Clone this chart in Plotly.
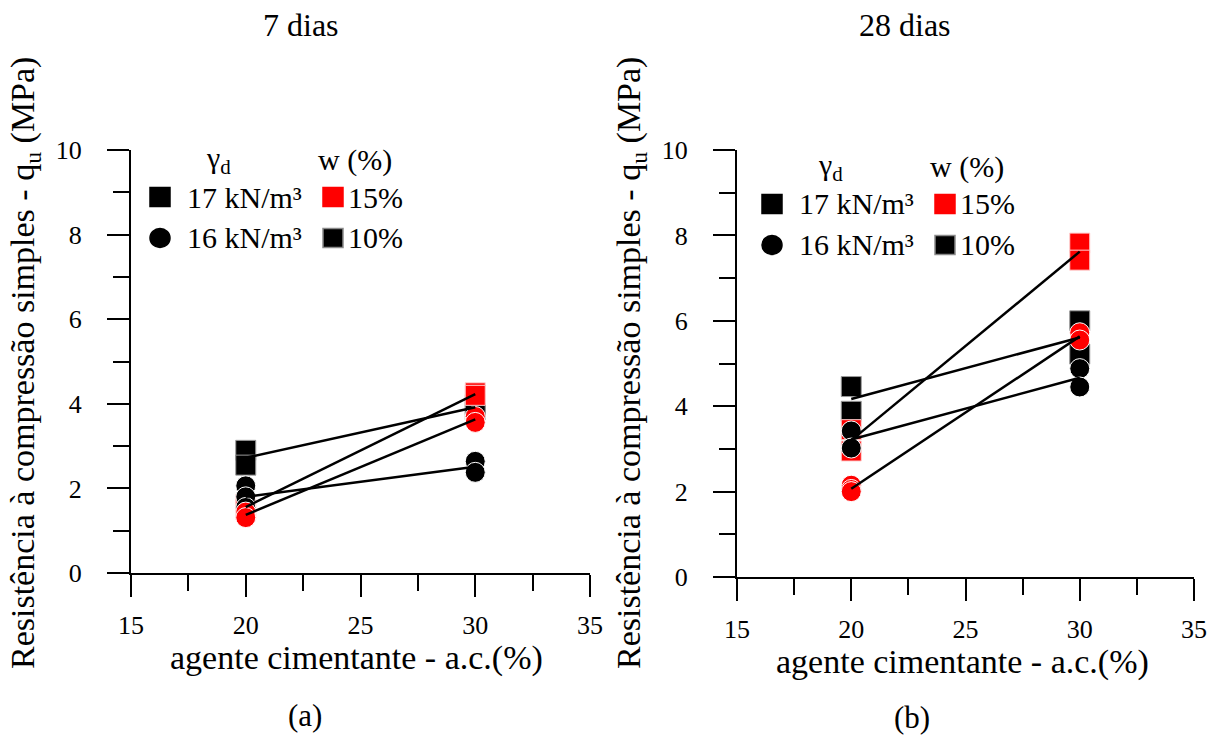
import numpy as np
import plotly.graph_objects as go

# ---------------- data ----------------
# cement content (a.c. %) for each specimen, and q_u (MPa)
# 7 dias
d7_bsq_x = [20, 20, 30, 30]            # 17 kN/m3, w 10% (black square)
d7_bsq_y = [2.90, 2.55, 3.98, 3.86]
d7_rsq_x = [20, 20, 30, 30]            # 17 kN/m3, w 15% (red square)
d7_rsq_y = [1.62, 1.50, 4.26, 4.20]
d7_bci_x = [20, 20, 20, 30, 30]        # 16 kN/m3, w 10% (black circle)
d7_bci_y = [2.06, 1.80, 1.55, 2.64, 2.38]
d7_rci_x = [20, 20, 30, 30]            # 16 kN/m3, w 15% (red circle)
d7_rci_y = [1.44, 1.31, 3.70, 3.56]

# 28 dias
d28_bsq_x = [20, 20, 30, 30]
d28_bsq_y = [4.46, 3.88, 6.00, 5.22]
d28_rsq_x = [20, 20, 30, 30]
d28_rsq_y = [3.45, 2.95, 7.82, 7.42]
d28_bci_x = [20, 20, 30, 30]
d28_bci_y = [3.42, 3.02, 4.88, 4.45]
d28_rci_x = [20, 20, 20, 30, 30]
d28_rci_y = [2.15, 2.05, 2.00, 5.72, 5.55]

panel_titles = ["7 dias", "28 dias"]
panel_tags = ["(a)", "(b)"]
x_title = "agente cimentante - a.c.(%)"
y_title = "Resistência à compressão simples - q<sub>u</sub> (MPa)"
x_ticks = [15, 20, 25, 30, 35]
y_ticks = [0, 2, 4, 6, 8, 10]

FONT = "Liberation Serif"
RED = "#ff0000"
BLACK = "#000000"

W, H = 1215, 738
def px(x):
    return x / W
def py(y):
    return 1 - y / H

fig = go.Figure()

groups = {
    "x": [
        (d7_bsq_x, d7_bsq_y, "square", BLACK, "#9a9a9a"),
        (d7_rsq_x, d7_rsq_y, "square", RED, "#ffd0d0"),
        (d7_bci_x, d7_bci_y, "circle", BLACK, "white"),
        (d7_rci_x, d7_rci_y, "circle", RED, "white"),
    ],
    "x2": [
        (d28_bsq_x, d28_bsq_y, "square", BLACK, "#9a9a9a"),
        (d28_rsq_x, d28_rsq_y, "square", RED, "#ffd0d0"),
        (d28_bci_x, d28_bci_y, "circle", BLACK, "white"),
        (d28_rci_x, d28_rci_y, "circle", RED, "white"),
    ],
}

for xa, glist in groups.items():
    ya = "y" if xa == "x" else "y2"
    for gx, gy, sym, col, edge in glist:
        fig.add_trace(go.Scatter(
            x=gx, y=gy, mode="markers", xaxis=xa, yaxis=ya,
            marker=dict(symbol=sym, size=20, color=col,
                        line=dict(color=edge, width=1)),
            showlegend=False, hoverinfo="x+y"))
    for gx, gy, sym, col, edge in glist:
        gx_a = np.array(gx); gy_a = np.array(gy)
        xs = sorted(set(gx))
        means = [float(gy_a[gx_a == v].mean()) for v in xs]
        fig.add_trace(go.Scatter(
            x=xs, y=means, mode="lines", xaxis=xa, yaxis=ya,
            line=dict(color=BLACK, width=2.5),
            showlegend=False, hoverinfo="skip"))

def xaxis_cfg(domain, anchor):
    return dict(domain=domain, anchor=anchor, range=[15, 35], automargin=False,
                tickmode="array", tickvals=x_ticks, ticktext=[str(v) for v in x_ticks],
                ticks="outside", ticklen=22, tickwidth=2, tickcolor=BLACK,
                showline=True, linewidth=2, linecolor=BLACK,
                showgrid=False, zeroline=False, ticklabelstandoff=6,
                minor=dict(tickmode="array", tickvals=[17.5, 22.5, 27.5, 32.5],
                           ticks="outside", ticklen=16, tickwidth=2, tickcolor=BLACK),
                tickfont=dict(family=FONT, size=26, color=BLACK))

def yaxis_cfg(domain, anchor):
    return dict(domain=domain, anchor=anchor, range=[0, 10], automargin=False,
                tickmode="array", tickvals=y_ticks, ticktext=[str(v) for v in y_ticks],
                ticks="outside", ticklen=22, tickwidth=2, tickcolor=BLACK,
                showline=True, linewidth=2, linecolor=BLACK,
                showgrid=False, zeroline=False, ticklabelstandoff=20,
                minor=dict(tickmode="array", tickvals=[1, 3, 5, 7, 9],
                           ticks="outside", ticklen=16, tickwidth=2, tickcolor=BLACK),
                tickfont=dict(family=FONT, size=26, color=BLACK))

fig.update_layout(
    width=W, height=H, margin=dict(l=0, r=0, t=0, b=0),
    paper_bgcolor="white", plot_bgcolor="white",
    font=dict(family=FONT, color=BLACK),
    xaxis=xaxis_cfg([px(131), px(590)], "y"),
    yaxis=yaxis_cfg([py(573), py(150)], "x"),
    xaxis2=xaxis_cfg([px(737), px(1194)], "y2"),
    yaxis2=yaxis_cfg([py(577), py(150)], "x2"),
)

annotations = []
shapes = []
ttl_font = dict(family=FONT, size=34, color=BLACK)
# axis titles
for xc, yc in [(356, 658), (962, 662)]:
    annotations.append(dict(text=x_title, x=px(xc), y=py(yc), xref="paper", yref="paper",
                            xanchor="center", yanchor="middle", showarrow=False, font=ttl_font))
for xc, yc in [(25, 363), (631, 363)]:
    annotations.append(dict(text=y_title, x=px(xc), y=py(yc), xref="paper", yref="paper",
                            xanchor="center", yanchor="middle", textangle=-90,
                            showarrow=False, font=ttl_font))
# panel titles and tags
for title, tx in zip(panel_titles, [301, 905]):
    annotations.append(dict(text=title, x=px(tx), y=py(25), xref="paper", yref="paper",
                            xanchor="center", yanchor="middle", showarrow=False,
                            font=dict(family=FONT, size=32, color=BLACK)))
for tag, tx, ty in zip(panel_tags, [305, 912], [715, 717]):
    annotations.append(dict(text=tag, x=px(tx), y=py(ty), xref="paper", yref="paper",
                            xanchor="center", yanchor="middle", showarrow=False,
                            font=dict(family=FONT, size=31, color=BLACK)))

# custom two-column legends
leg_font = dict(family=FONT, size=30, color=BLACK)
for dx, dy in [(0, 0), (612, 7)]:
    annotations.append(dict(text="γ<sub>d</sub>", x=px(218 + dx), y=py(160 + dy),
                            xref="paper", yref="paper", xanchor="center", yanchor="middle",
                            showarrow=False, font=leg_font))
    annotations.append(dict(text="w (%)", x=px(355 + dx), y=py(160 + dy),
                            xref="paper", yref="paper", xanchor="center", yanchor="middle",
                            showarrow=False, font=leg_font))
    rows = [
        (160, 197, "rect", BLACK, BLACK, "17 kN/m³", 185),
        (160, 238, "circle", BLACK, BLACK, "16 kN/m³", 185),
        (333, 197, "rect", RED, RED, "15%", 346),
        (333, 238, "rect", BLACK, "#8a8a8a", "10%", 346),
    ]
    for cx, cy, typ, fc, lc, label, tx in rows:
        shapes.append(dict(type=typ, xref="paper", yref="paper",
                           xsizemode="pixel", ysizemode="pixel",
                           xanchor=px(cx + dx), yanchor=py(cy + dy),
                           x0=-10, x1=10, y0=-9.5, y1=9.5,
                           fillcolor=fc, line=dict(color=lc, width=1.5)))
        annotations.append(dict(text=label, x=px(tx + dx), y=py(cy + dy),
                                xref="paper", yref="paper", xanchor="left", yanchor="middle",
                                showarrow=False, font=leg_font))

fig.update_layout(annotations=annotations, shapes=shapes)

fig.write_html("out.html")
